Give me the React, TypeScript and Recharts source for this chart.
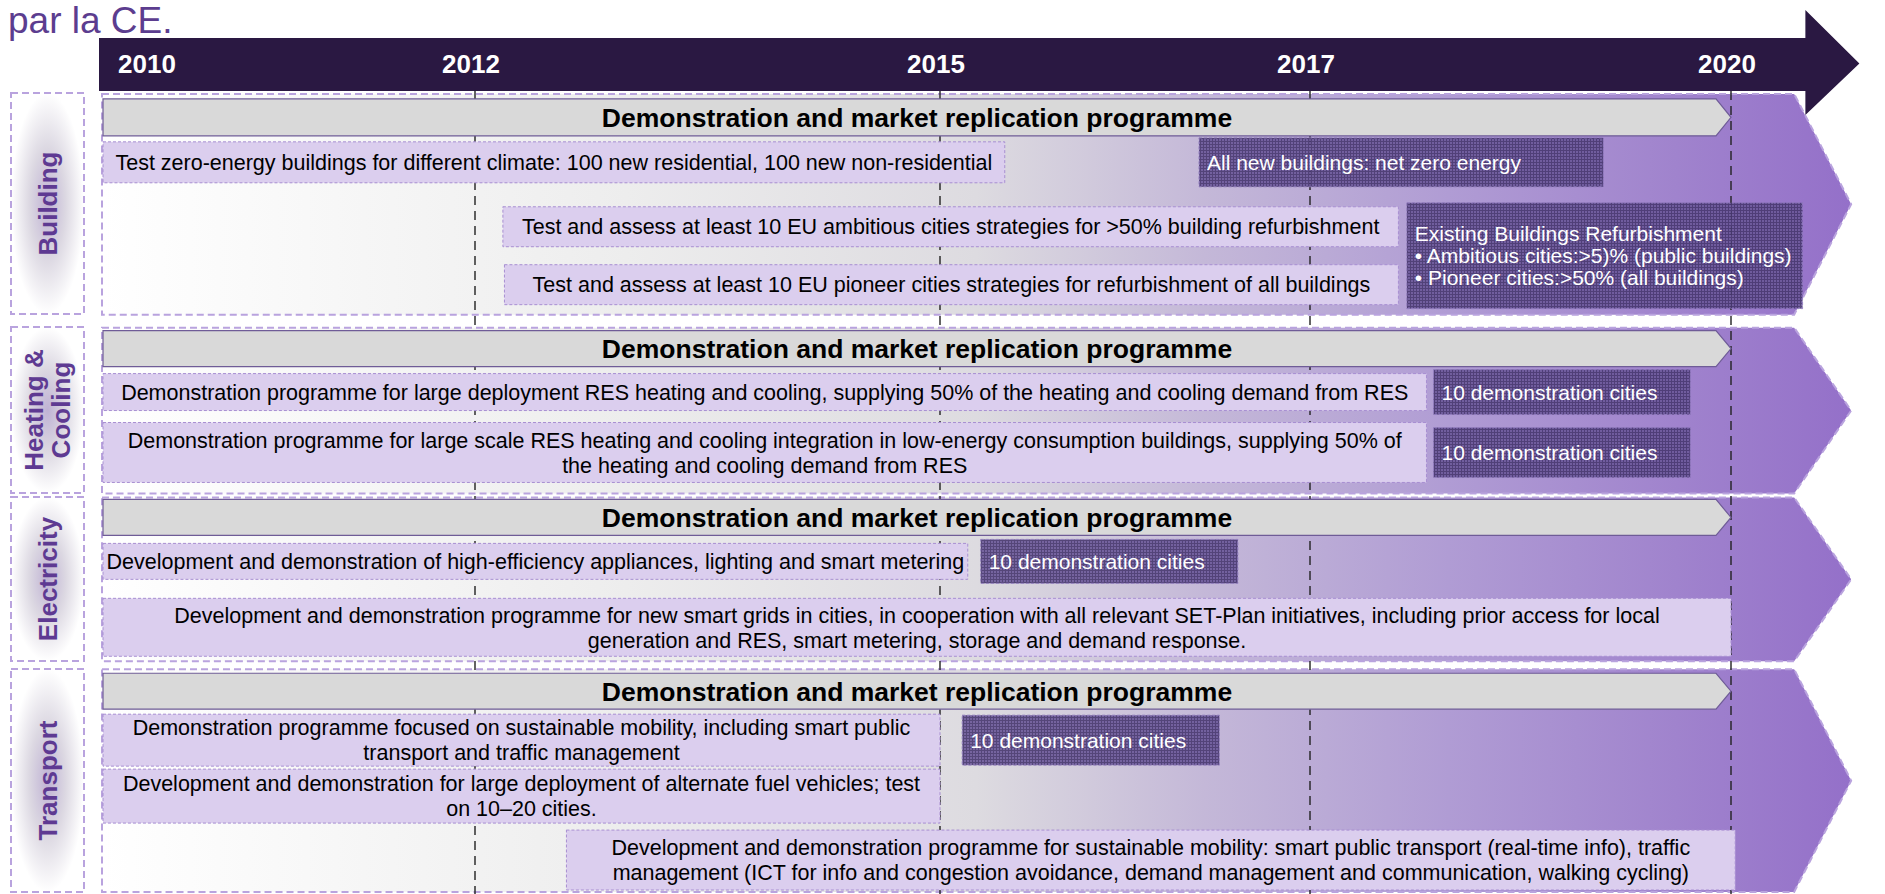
import { ComposedChart, ReferenceArea, XAxis, YAxis } from "recharts";

const W = 1885;
const H = 894;
const FONT = '"Liberation Sans", Arial, Helvetica, sans-serif';

// time axis
const YEAR_TICKS = [2010, 2012, 2015, 2017, 2020];
const MARKER_YEARS = [2012, 2015, 2017, 2020];

const SECTORS = [["Building"], ["Heating &", "Cooling"], ["Electricity"], ["Transport"]];

const PROGRAMME_LABEL = "Demonstration and market replication programme";
const PROGRAMME_START = 2010;
const PROGRAMME_END = 2020;

type Item = { sector: number; lane: number; laneEnd?: number; start: number; end: number; text: string[] };

const ACTIVITIES: Item[] = [
  { sector: 0, lane: 1, start: 2010, end: 2015.35, text: ["Test zero-energy buildings for different climate: 100 new residential, 100 new non-residential"] },
  { sector: 0, lane: 2, start: 2012.18, end: 2017.63, text: ["Test and assess at least 10 EU ambitious cities strategies for >50% building refurbishment"] },
  { sector: 0, lane: 3, start: 2012.19, end: 2017.63, text: ["Test and assess at least 10 EU pioneer cities strategies for refurbishment of all buildings"] },
  { sector: 1, lane: 1, start: 2010, end: 2017.83, text: ["Demonstration programme for large deployment RES heating and cooling, supplying 50% of the heating and cooling demand from RES"] },
  {
    sector: 1, lane: 2, start: 2010, end: 2017.83,
    text: [
      "Demonstration programme for large scale RES heating and cooling integration in low-energy consumption buildings, supplying 50% of",
      "the heating and cooling demand from RES",
    ],
  },
  { sector: 2, lane: 1, start: 2010, end: 2015.15, text: ["Development and demonstration of high-efficiency appliances, lighting and smart metering"] },
  {
    sector: 2, lane: 2, start: 2010, end: 2020,
    text: [
      "Development and demonstration programme for new smart grids in cities, in cooperation with all relevant SET-Plan initiatives, including prior access for local",
      "generation and RES, smart metering, storage and demand response.",
    ],
  },
  {
    sector: 3, lane: 1, start: 2010, end: 2015,
    text: ["Demonstration programme focused on sustainable mobility, including smart public", "transport and traffic management"],
  },
  {
    sector: 3, lane: 2, start: 2010, end: 2015,
    text: ["Development and demonstration for large deployment of alternate fuel vehicles; test", "on 10\u201320 cities."],
  },
  {
    sector: 3, lane: 3, start: 2012.59, end: 2020.03,
    text: [
      "Development and demonstration programme for sustainable mobility: smart public transport (real-time info), traffic",
      "management (ICT for info and congestion avoidance, demand management and communication, walking cycling)",
    ],
  },
];

const MILESTONES: Item[] = [
  { sector: 0, lane: 1, start: 2016.4, end: 2019.09, text: ["All new buildings: net zero energy"] },
  {
    sector: 0, lane: 2, laneEnd: 3, start: 2017.69, end: 2020.51,
    text: ["Existing Buildings Refurbishment", "\u2022 Ambitious cities:>5)% (public buildings)", "\u2022 Pioneer cities:>50% (all buildings)"],
  },
  { sector: 1, lane: 1, start: 2017.88, end: 2019.71, text: ["10 demonstration cities"] },
  { sector: 1, lane: 2, start: 2017.88, end: 2019.71, text: ["10 demonstration cities"] },
  { sector: 2, lane: 1, start: 2015.22, end: 2016.61, text: ["10 demonstration cities"] },
  { sector: 3, lane: 1, start: 2015.12, end: 2016.51, text: ["10 demonstration cities"] },
];

// ---- layout (the drawn time axis is not linear in years) ----
const AXIS_ANCHORS: [number, number][] = [
  [2010, 103],
  [2012, 475],
  [2015, 940],
  [2017, 1310],
  [2020, 1731],
];
const Y_AXIS_W = 90;
const SECTOR_BOUNDS: [number, number][] = [
  [93, 314],
  [327, 493],
  [497, 661],
  [669, 892],
];
const LANES: [number, number][][] = [
  [[98, 135], [141, 182], [206, 246], [264, 304]],
  [[330, 366], [373, 410], [422, 482]],
  [[499, 535], [543, 579], [598, 656]],
  [[673, 709], [714, 766], [769, 823], [830, 890]],
];
const HEADER_TOP = 37;
const HEADER_BOTTOM = 90;
const HEADER_END_YEAR = 2020.53;
const BG_END_YEAR = 2020.45;

function toAxis(year: number) {
  const a = AXIS_ANCHORS;
  let i = 0;
  while (i < a.length - 2 && year > a[i + 1][0]) i++;
  const [y0, p0] = a[i];
  const [y1, p1] = a[i + 1];
  return p0 + ((year - y0) * (p1 - p0)) / (y1 - y0);
}

const tickRows = YEAR_TICKS.map((year) => ({ x: toAxis(year), year }));

function milestoneY(m: Item): [number, number] {
  const lanes = LANES[m.sector];
  if (m.laneEnd != null && m.laneEnd > m.lane) return [lanes[m.lane][0] - 4, lanes[m.laneEnd][1] + 4];
  const [a, b] = lanes[m.lane];
  const h = Math.min(b - a + 8, 50);
  const c = (a + b) / 2;
  return [c - h / 2, c + h / 2];
}

function SectorBg(p: any) {
  const { x, y, width, height } = p;
  const d = 57;
  const pts = `${x},${y} ${x + width},${y} ${x + width + d},${y + height / 2} ${x + width},${y + height} ${x},${y + height}`;
  return <polygon points={pts} fill="url(#bgGrad)" stroke="#B9A3DE" strokeWidth={2} strokeDasharray="7 4" />;
}

function MarkerLine(p: any) {
  const { x, y, width, height } = p;
  const cx = x + width / 2;
  return <line x1={cx} x2={cx} y1={y} y2={y + height} stroke="#222" strokeWidth={1.4} strokeDasharray="9 6" />;
}

function Programme(p: any) {
  const { x, y, width, height } = p;
  const d = 15;
  const pts = `${x},${y} ${x + width - d},${y} ${x + width},${y + height / 2} ${x + width - d},${y + height} ${x},${y + height}`;
  return (
    <g>
      <polygon points={pts} fill="#D9D9D9" stroke="#6F5C97" strokeWidth={1.2} />
      <text x={x + width / 2} y={y + height / 2} dy="0.36em" textAnchor="middle" fontFamily={FONT} fontWeight={700} fontSize={26.5} fill="#000">
        {PROGRAMME_LABEL}
      </text>
    </g>
  );
}

function makeActivity(lines: string[]) {
  return (p: any) => {
    const { x, y, width, height } = p;
    const lh = 25;
    const cy = y + height / 2 - ((lines.length - 1) * lh) / 2;
    return (
      <g>
        <rect x={x} y={y} width={width} height={height} fill="#DBCEEE" stroke="#A88FD2" strokeWidth={1} strokeDasharray="3 2" />
        {lines.map((t, i) => (
          <text key={i} x={x + width / 2} y={cy + i * lh} dy="0.36em" textAnchor="middle" fontFamily={FONT} fontSize={21.5} fill="#000">
            {t}
          </text>
        ))}
      </g>
    );
  };
}

function makeMilestone(lines: string[]) {
  return (p: any) => {
    const { x, y, width, height } = p;
    const lh = 22;
    const cy = y + height / 2 - ((lines.length - 1) * lh) / 2;
    return (
      <g>
        <rect x={x} y={y} width={width} height={height} fill="url(#chk)" opacity={0.9} stroke="#8F7ABD" strokeWidth={1} strokeDasharray="3 2" />
        {lines.map((t, i) => (
          <text key={i} x={x + 8} y={cy + i * lh} dy="0.36em" fontFamily={FONT} fontSize={21} fill="#FFFFFF">
            {t}
          </text>
        ))}
      </g>
    );
  };
}

function Header(p: any) {
  const { x, y, width, height } = p;
  const x0 = x - 4;
  const xe = x + width;
  const pts = `${x0},${y} ${xe},${y} ${xe},${y - 28} ${xe + 54},${y + height / 2 - 1} ${xe},${y + height + 24} ${xe},${y + height} ${x0},${y + height}`;
  return <polygon points={pts} fill="#2A1842" />;
}

function YearTick(p: any) {
  const { x, index } = p;
  const first = index === 0;
  return (
    <text x={first ? x + 15 : x - 4} y={73} textAnchor={first ? "start" : "middle"} fontFamily={FONT} fontWeight={700} fontSize={26} fill="#FFFFFF">
      {YEAR_TICKS[index]}
    </text>
  );
}

function SectorTick(p: any) {
  const { index } = p;
  const [top, bottom] = SECTOR_BOUNDS[index];
  const lines = SECTORS[index];
  const bx = 11;
  const bw = 73;
  const cy = (top + bottom) / 2;
  const cx = bx + bw / 2;
  const gap = 27;
  return (
    <g>
      <rect x={bx} y={top} width={bw} height={bottom - top} fill="url(#lblGrad)" stroke="#B9A3DE" strokeWidth={2} strokeDasharray="7 4" />
      {lines.map((t, i) => {
        const lx = cx + (i - (lines.length - 1) / 2) * gap;
        return (
          <text
            key={i}
            x={lx}
            y={cy}
            dy="0.36em"
            transform={`rotate(-90 ${lx} ${cy})`}
            textAnchor="middle"
            fontFamily={FONT}
            fontWeight={700}
            fontSize={26}
            fill="#5E3A92"
          >
            {t}
          </text>
        );
      })}
    </g>
  );
}

export default function App() {
  const sectorCenters = SECTOR_BOUNDS.map(([a, b]) => (a + b) / 2);
  return (
    <div style={{ position: "absolute", left: 0, top: 0, width: W, height: H, overflow: "hidden", background: "#fff" }}>
      <div style={{ position: "absolute", left: 8, top: 2, fontFamily: FONT, fontSize: 37, lineHeight: "37px", color: "#5C3D8F" }}>
        par la CE.
      </div>
      <ComposedChart width={W} height={H} data={tickRows} margin={{ top: 0, right: 0, bottom: 0, left: 0 }}>
        <defs>
          <linearGradient id="bgGrad" x1="0" y1="0" x2="1" y2="0">
            <stop offset="0" stopColor="#FFFFFF" />
            <stop offset="0.3" stopColor="#EDEDED" />
            <stop offset="0.5" stopColor="#DDDBE0" />
            <stop offset="0.63" stopColor="#C4B8D8" />
            <stop offset="0.77" stopColor="#B09CD4" />
            <stop offset="0.9" stopColor="#A083CD" />
            <stop offset="1" stopColor="#9470C9" />
          </linearGradient>
          <radialGradient id="lblGrad" cx="0.5" cy="0.5" r="0.5">
            <stop offset="0" stopColor="#BFB2D4" />
            <stop offset="0.5" stopColor="#DCD8E2" />
            <stop offset="1" stopColor="#FFFFFF" />
          </radialGradient>
          <pattern id="chk" width="3" height="3" patternUnits="userSpaceOnUse">
            <rect width="3" height="3" fill="#6B5899" />
            <path d="M0 0.5H3M0.5 0V3" stroke="#47376F" strokeWidth="1" />
          </pattern>
        </defs>

        {SECTOR_BOUNDS.map(([a, b], i) => (
          <ReferenceArea key={`bg${i}`} x1={toAxis(2010) - 1} x2={toAxis(BG_END_YEAR)} y1={a} y2={b} shape={SectorBg} ifOverflow="visible" />
        ))}

        {MARKER_YEARS.map((yr) => (
          <ReferenceArea key={`m${yr}`} x1={toAxis(yr) - 1} x2={toAxis(yr) + 1} y1={HEADER_BOTTOM} y2={H} shape={MarkerLine} ifOverflow="visible" />
        ))}

        {LANES.map((lanes, i) => (
          <ReferenceArea
            key={`p${i}`}
            x1={toAxis(PROGRAMME_START)}
            x2={toAxis(PROGRAMME_END)}
            y1={lanes[0][0]}
            y2={lanes[0][1]}
            shape={Programme}
            ifOverflow="visible"
          />
        ))}

        {ACTIVITIES.map((a, i) => (
          <ReferenceArea
            key={`a${i}`}
            x1={toAxis(a.start)}
            x2={toAxis(a.end)}
            y1={LANES[a.sector][a.lane][0]}
            y2={LANES[a.sector][a.lane][1]}
            shape={makeActivity(a.text)}
            ifOverflow="visible"
          />
        ))}

        {MILESTONES.map((m, i) => {
          const [y1, y2] = milestoneY(m);
          return (
            <ReferenceArea key={`ms${i}`} x1={toAxis(m.start)} x2={toAxis(m.end)} y1={y1} y2={y2} shape={makeMilestone(m.text)} ifOverflow="visible" />
          );
        })}

        <ReferenceArea x1={toAxis(2010)} x2={toAxis(HEADER_END_YEAR)} y1={HEADER_TOP} y2={HEADER_BOTTOM} shape={Header} ifOverflow="visible" />

        <XAxis
          dataKey="x"
          type="number"
          orientation="top"
          domain={[Y_AXIS_W, W]}
          height={1}
          ticks={YEAR_TICKS.map(toAxis)}
          interval={0}
          axisLine={false}
          tickLine={false}
          tickSize={0}
          tickMargin={0}
          tick={YearTick}
          allowDataOverflow
        />
        <YAxis
          type="number"
          domain={[0, H]}
          reversed
          width={Y_AXIS_W}
          ticks={sectorCenters}
          interval={0}
          axisLine={false}
          tickLine={false}
          tickSize={0}
          tickMargin={0}
          tick={SectorTick}
          allowDataOverflow
        />
      </ComposedChart>
    </div>
  );
}
